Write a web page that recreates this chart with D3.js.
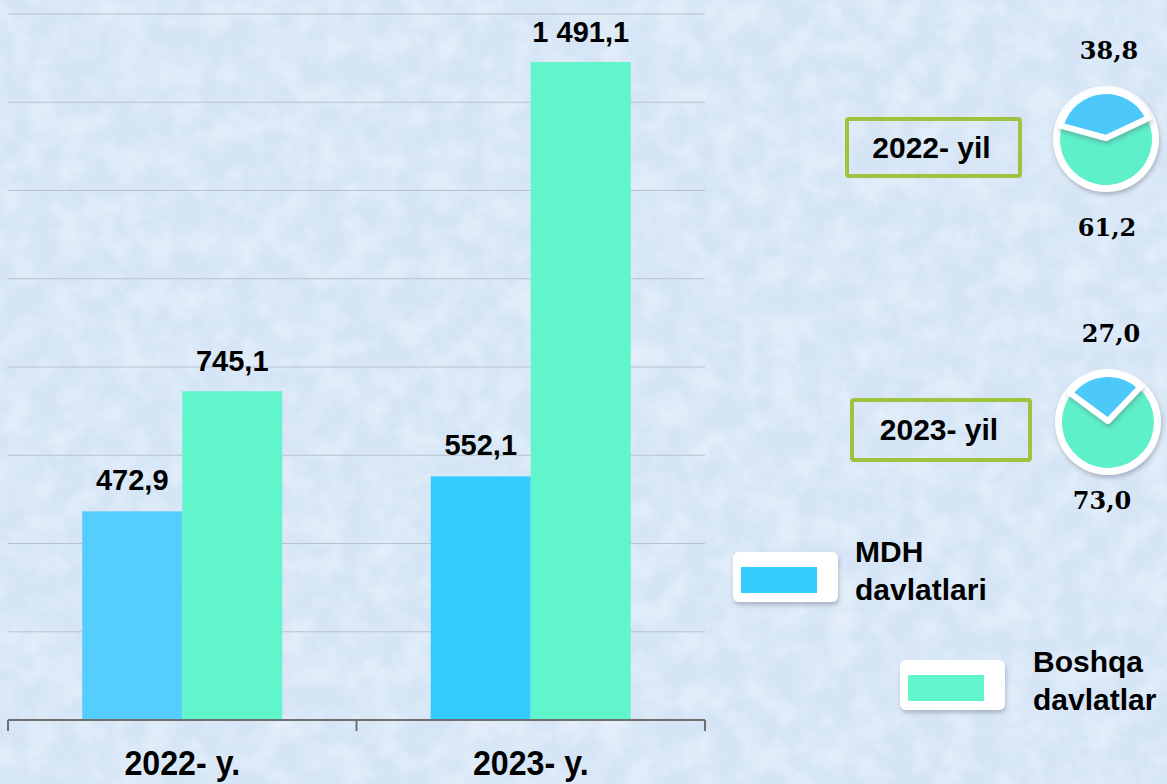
<!DOCTYPE html>
<html lang="uz">
  <head>
    <meta charset="utf-8">
    <title>MDH va boshqa davlatlar</title>
    <script type="text/javascript" src="https://d3js.org/d3.v7.min.js"></script>
    <style type="text/css">
      html, body { margin: 0; padding: 0; background: #d9e8f7; }
      svg { display: block; }
    </style>
  </head>
  <body>
    <div id="chart"></div>
    <script type="text/javascript">
      // data
      var years = ["2022- y.", "2023- y."];
      var series = ["MDH davlatlari", "Boshqa davlatlar"];
      var mdh = [472.9, 552.1];
      var boshqa = [745.1, 1491.1];
      var valueLabels = [["472,9", "745,1"], ["552,1", "1 491,1"]];
      var yTicks = [0, 200, 400, 600, 800, 1000, 1200, 1400, 1600];

      var pieYears = ["2022- yil", "2023- yil"];
      var pieMdh = [38.8, 27.0];
      var pieBoshqa = [61.2, 73.0];
      var pieMdhLabels = ["38,8", "27,0"];
      var pieBoshqaLabels = ["61,2", "73,0"];

      var w = 1167, h = 784;
      var plotLeft = 8, plotRight = 705, plotBase = 720, plotTop = 14;
      var barW = 100;
      var colors = { mdh: ["#55cdfd", "#33ccff"], boshqa: "#61f5cb", pieBlue: "#4ec8fb", pieGreen: "#5ef0c9" };

      var svg = d3.select("#chart").append("svg")
                  .attr("width", w)
                  .attr("height", h);

      var defs = svg.append("defs");
      var tex = defs.append("filter").attr("id", "tex")
                    .attr("x", 0).attr("y", 0).attr("width", 1).attr("height", 1);
      tex.append("feTurbulence").attr("type", "fractalNoise")
         .attr("baseFrequency", 0.035).attr("numOctaves", 4).attr("seed", 7);
      tex.append("feColorMatrix").attr("type", "matrix")
         .attr("values", "0 0 0 0 1  0 0 0 0 1  0 0 0 0 1  0 0 0 -1.8 1.15");

      var shadow = defs.append("filter").attr("id", "shadow")
                       .attr("x", "-20%").attr("y", "-20%").attr("width", "140%").attr("height", "150%");
      shadow.append("feDropShadow").attr("dx", 1).attr("dy", 3).attr("stdDeviation", 2)
            .attr("flood-color", "#556").attr("flood-opacity", 0.35);

      // background
      svg.append("rect").attr("width", w).attr("height", h).attr("fill", "#d5e5f6");
      svg.append("rect").attr("width", w).attr("height", h)
         .attr("filter", "url(#tex)").attr("opacity", 0.4);

      // scales
      var x0 = d3.scaleBand().domain(years).range([plotLeft, plotRight]);
      var x1 = d3.scaleBand().domain(series)
                 .range([x0.bandwidth() / 2 - barW, x0.bandwidth() / 2 + barW]);
      var y = d3.scaleLinear().domain([0, 1600]).range([plotBase, plotTop]);

      // grid
      svg.append("g").selectAll("line")
         .data(yTicks.slice(1))
         .enter().append("line")
         .attr("x1", plotLeft).attr("x2", plotRight)
         .attr("y1", function(d){ return y(d); })
         .attr("y2", function(d){ return y(d); })
         .attr("stroke", "#b9c2cc").attr("stroke-width", 1.2);

      // bars
      var groups = svg.selectAll("g.year")
                      .data(years)
                      .enter().append("g")
                      .attr("class", "year")
                      .attr("transform", function(d){ return "translate(" + x0(d) + ",0)"; });

      groups.append("rect")
            .attr("x", x1(series[0]))
            .attr("y", function(d, i){ return y(mdh[i]); })
            .attr("width", x1.bandwidth())
            .attr("height", function(d, i){ return plotBase - y(mdh[i]); })
            .attr("fill", function(d, i){ return colors.mdh[i]; });

      groups.append("rect")
            .attr("x", x1(series[1]))
            .attr("y", function(d, i){ return y(boshqa[i]); })
            .attr("width", x1.bandwidth())
            .attr("height", function(d, i){ return plotBase - y(boshqa[i]); })
            .attr("fill", colors.boshqa);

      groups.append("text")
            .text(function(d, i){ return valueLabels[i][0]; })
            .attr("x", x1(series[0]) + x1.bandwidth() / 2)
            .attr("y", function(d, i){ return y(mdh[i]) - 21; });

      groups.append("text")
            .text(function(d, i){ return valueLabels[i][1]; })
            .attr("x", x1(series[1]) + x1.bandwidth() / 2)
            .attr("y", function(d, i){ return y(boshqa[i]) - 20; });

      groups.selectAll("text")
            .attr("text-anchor", "middle")
            .attr("font-family", "'Liberation Sans', Arial, sans-serif")
            .attr("font-weight", "bold")
            .attr("font-size", "29px")
            .attr("fill", "#000");

      // x axis
      var xAxis = svg.append("g")
                     .attr("transform", "translate(0," + plotBase + ")");
      xAxis.append("line").attr("x1", plotLeft).attr("x2", plotRight)
           .attr("stroke", "#6f6f6f").attr("stroke-width", 2);
      xAxis.selectAll(".sep")
           .data([plotLeft, x0(years[1]), plotRight])
           .enter().append("line")
           .attr("class", "sep")
           .attr("x1", function(d){ return d; }).attr("x2", function(d){ return d; })
           .attr("y1", 0).attr("y2", 11)
           .attr("stroke", "#6f6f6f").attr("stroke-width", 2);

      svg.append("g").selectAll("text")
         .data(years)
         .enter().append("text")
         .attr("transform", function(d){
           return "translate(" + (x0(d) + x0.bandwidth() / 2) + ",775) scale(0.92,1)";
         })
         .attr("text-anchor", "middle")
         .attr("font-family", "'Liberation Sans', Arial, sans-serif")
         .attr("font-weight", "bold")
         .attr("font-size", "35px")
         .attr("fill", "#000")
         .text(function(d){ return d; });

      // pies
      var pieCenters = [[1106, 139], [1108, 422]];
      var boxes = [[845, 117, 177, 61], [850, 398, 182, 64]];
      var rot = -5 * Math.PI / 180;
      var arc = d3.arc().innerRadius(0);

      pieYears.forEach(function(label, i){
        var b = boxes[i];
        svg.append("rect")
           .attr("x", b[0] + 2).attr("y", b[1] + 2)
           .attr("width", b[2] - 4).attr("height", b[3] - 4)
           .attr("rx", 2)
           .attr("fill", "none").attr("stroke", "#9dc33f").attr("stroke-width", 4);
        svg.append("text")
           .attr("x", b[0] + b[2] / 2 - 2).attr("y", b[1] + b[3] / 2 + 10)
           .attr("text-anchor", "middle")
           .attr("font-family", "'Liberation Sans', Arial, sans-serif")
           .attr("font-weight", "bold").attr("font-size", "30px")
           .text(label);

        var total = pieMdh[i] + pieBoshqa[i];
        var half = Math.PI * pieMdh[i] / total;
        var c = pieCenters[i];
        var g = svg.append("g").attr("transform", "translate(" + c[0] + "," + c[1] + ")");

        g.append("circle").attr("r", 53).attr("fill", "#fff").attr("filter", "url(#shadow)");
        g.append("path")
         .attr("d", arc({ outerRadius: 46, startAngle: rot + half, endAngle: rot - half + 2 * Math.PI }))
         .attr("fill", colors.pieGreen);
        g.append("path")
         .attr("transform", "translate(0,-1)")
         .attr("d", arc({ outerRadius: 47, startAngle: rot - half, endAngle: rot + half }))
         .attr("fill", colors.pieBlue)
         .attr("stroke", "#fff").attr("stroke-width", 6).attr("stroke-linejoin", "round")
         .attr("filter", "url(#shadow)");

        svg.append("text")
           .attr("x", c[0] + 3).attr("y", c[1] - 80)
           .attr("text-anchor", "middle")
           .attr("font-family", "'DejaVu Serif', serif")
           .attr("font-weight", "bold").attr("font-size", "24px")
           .text(pieMdhLabels[i]);
        svg.append("text")
           .attr("x", c[0] + (i === 0 ? 1 : -6)).attr("y", c[1] + (i === 0 ? 97 : 87))
           .attr("text-anchor", "middle")
           .attr("font-family", "'DejaVu Serif', serif")
           .attr("font-weight", "bold").attr("font-size", "24px")
           .text(pieBoshqaLabels[i]);
      });

      // legend
      var legend = [
        { sw: [733, 552], tx: [855, 562], lines: ["MDH", "davlatlari"], color: colors.mdh[1] },
        { sw: [900, 660], tx: [1033, 672], lines: ["Boshqa", "davlatlar"], color: colors.boshqa }
      ];
      legend.forEach(function(d, i){
        var lg = svg.append("g").attr("transform", "translate(" + d.sw[0] + "," + d.sw[1] + ")");
        lg.append("rect").attr("width", 105).attr("height", 50).attr("rx", 6)
          .attr("fill", "#fff").attr("filter", "url(#shadow)");
        lg.append("rect").attr("x", 8).attr("y", 15).attr("width", 76).attr("height", 26)
          .attr("fill", d.color);
        var t = svg.append("text")
                   .attr("font-family", "'Liberation Sans', Arial, sans-serif")
                   .attr("font-weight", "bold").attr("font-size", "30px")
                   .attr("fill", "#000");
        d.lines.forEach(function(s, k){
          t.append("tspan").attr("x", d.tx[0]).attr("y", d.tx[1] + k * 38).text(s);
        });
      });
    </script>
  </body>
</html>
